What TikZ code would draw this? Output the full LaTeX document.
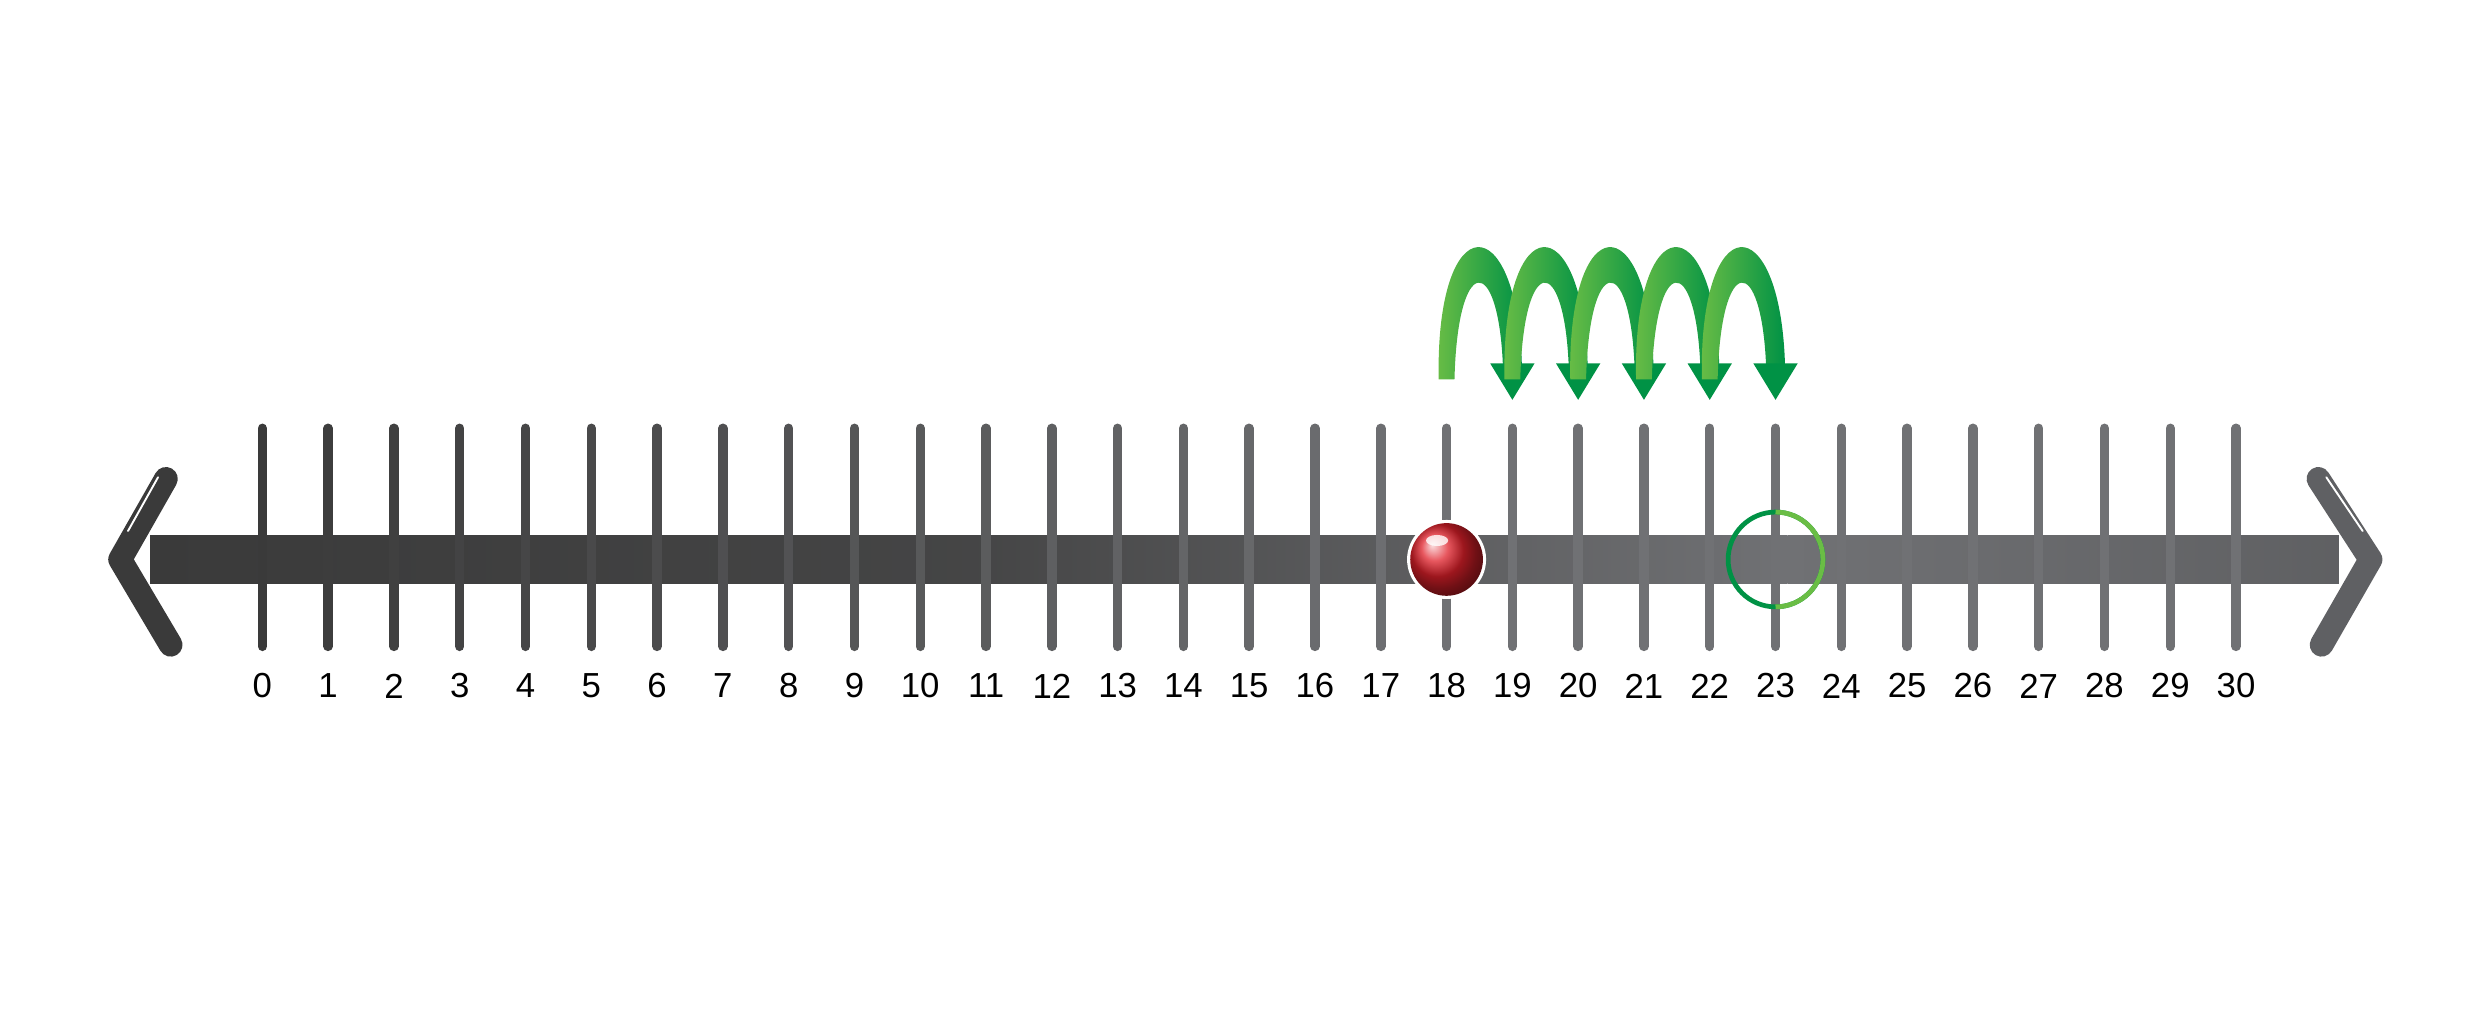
\documentclass[tikz,border=0pt]{standalone}
\usepackage{fontspec}
\setmainfont{Liberation Sans}
\usetikzlibrary{shapes.geometric,calc}
\definecolor{dk}{HTML}{3A3A3A}
\definecolor{md}{HTML}{707174}
\definecolor{gl}{HTML}{6ABD45}
\definecolor{gd}{HTML}{009245}
\definecolor{rb}{HTML}{E0202A}
\tikzset{tick/.style={line width=6pt,line cap=round},
 numlab/.style={font=\fontsize{22}{22}\selectfont,inner sep=0pt},
 head/.style={line width=15pt,line cap=round,line join=round,dk}}
\begin{document}
\begin{tikzpicture}[x=1pt,y=-1pt]
\useasboundingbox (0,0) rectangle (1568,653.6);
% main bar
\shade[left color=dk,right color=md,middle color=dk!80!md] (95,339) rectangle (1131,369);
\shade[left color=md,right color=md!85!black] (1131,339) rectangle (1480,369);
\draw[head] (105,303)--(76,354)--(108,408);
\draw[head,color=md!85!black] (1467,303)--(1500,354)--(1469,408);
\draw[white,line width=1.2pt,line cap=round] (81,336)--(100,302);
\draw[white,line width=1.2pt,line cap=round] (1495,336)--(1472,302);
% ticks
\foreach \i in {0,...,30}{
 \pgfmathsetmacro{\xx}{166+41.63*\i}
 \pgfmathsetmacro{\mix}{min(100,\i*100/18)}
 \coordinate (t\i) at (\xx,354);
 \draw[tick,color=md!\mix!dk] (\xx,271)--(\xx,409);
 \node[numlab] (n\i) at (\xx,434) {\i};
}
% jumps
\foreach \j in {18,...,22}{
 \pgfmathsetmacro{\a}{166+41.63*\j}
 \pgfmathsetmacro{\b}{\a+41.63}
 \shade[left color=gl,right color=gd]
  (\a-5,240) .. controls (\a-7,130) and (\b+3,130) .. (\b+6,231)
  -- (\b-6,231) .. controls (\b-9,160) and (\a+7,160) .. (\a+5,240) -- cycle;
 \fill[gd] (\b-14,230)--(\b+14,230)--(\b,253)--cycle;
}
% ball
\fill[white] (t18) circle (25);
\shade[ball color=rb] (t18) circle (23);
\fill[white,opacity=0.8] ($(t18)+(-6,-12)$) ellipse (7 and 3.5);
\draw[gd,line width=3pt] (t23) circle (30);
\draw[gl,line width=3pt] ($(t23)+(0,30)$) arc[start angle=90,end angle=-90,radius=30];
\end{tikzpicture}
\end{document}
